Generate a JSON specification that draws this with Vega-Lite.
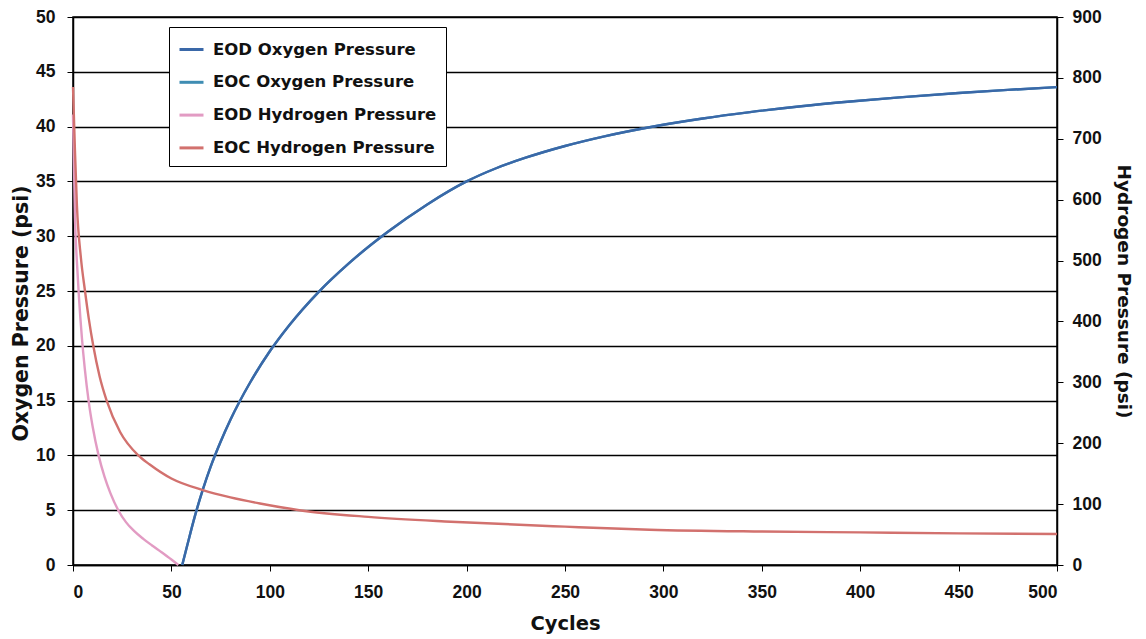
{
  "$schema": "https://vega.github.io/schema/vega-lite/v6.json",
  "width": 984,
  "height": 548,
  "autosize": "none",
  "padding": {"left": 73, "top": 17, "right": 89, "bottom": 74},
  "background": "white",
  "config": {
    "font": "Liberation Sans",
    "view": {"stroke": "black", "strokeWidth": 1.5},
    "axis": {
      "labelFont": "Liberation Sans", "labelFontWeight": "bold", "labelFontSize": 17.5, "labelColor": "#111",
      "titleFont": "DejaVu Sans", "titleFontWeight": "bold", "titleFontSize": 18.5, "titleColor": "#111",
      "domainColor": "black", "domainWidth": 1.5, "tickColor": "black", "tickSize": 6
    }
  },
  "datasets": {
    "oxygen": [
      {"cycle": 55.5, "series": "EOC Oxygen Pressure", "value": 0},
      {"cycle": 58, "series": "EOC Oxygen Pressure", "value": 1.75},
      {"cycle": 62, "series": "EOC Oxygen Pressure", "value": 4.5},
      {"cycle": 66, "series": "EOC Oxygen Pressure", "value": 6.9},
      {"cycle": 70, "series": "EOC Oxygen Pressure", "value": 9},
      {"cycle": 75, "series": "EOC Oxygen Pressure", "value": 11.25},
      {"cycle": 80, "series": "EOC Oxygen Pressure", "value": 13.25},
      {"cycle": 90, "series": "EOC Oxygen Pressure", "value": 16.65},
      {"cycle": 100, "series": "EOC Oxygen Pressure", "value": 19.5},
      {"cycle": 110, "series": "EOC Oxygen Pressure", "value": 21.9},
      {"cycle": 125, "series": "EOC Oxygen Pressure", "value": 24.95},
      {"cycle": 140, "series": "EOC Oxygen Pressure", "value": 27.5},
      {"cycle": 160, "series": "EOC Oxygen Pressure", "value": 30.4},
      {"cycle": 180, "series": "EOC Oxygen Pressure", "value": 32.9},
      {"cycle": 200, "series": "EOC Oxygen Pressure", "value": 35},
      {"cycle": 215, "series": "EOC Oxygen Pressure", "value": 36.2},
      {"cycle": 230, "series": "EOC Oxygen Pressure", "value": 37.16},
      {"cycle": 250, "series": "EOC Oxygen Pressure", "value": 38.23},
      {"cycle": 270, "series": "EOC Oxygen Pressure", "value": 39.11},
      {"cycle": 295, "series": "EOC Oxygen Pressure", "value": 40.01},
      {"cycle": 320, "series": "EOC Oxygen Pressure", "value": 40.74},
      {"cycle": 344, "series": "EOC Oxygen Pressure", "value": 41.32},
      {"cycle": 370, "series": "EOC Oxygen Pressure", "value": 41.86},
      {"cycle": 395, "series": "EOC Oxygen Pressure", "value": 42.29},
      {"cycle": 420, "series": "EOC Oxygen Pressure", "value": 42.67},
      {"cycle": 450, "series": "EOC Oxygen Pressure", "value": 43.06},
      {"cycle": 475, "series": "EOC Oxygen Pressure", "value": 43.35},
      {"cycle": 500, "series": "EOC Oxygen Pressure", "value": 43.6},
      {"cycle": 55.5, "series": "EOD Oxygen Pressure", "value": 0},
      {"cycle": 58, "series": "EOD Oxygen Pressure", "value": 1.75},
      {"cycle": 62, "series": "EOD Oxygen Pressure", "value": 4.5},
      {"cycle": 66, "series": "EOD Oxygen Pressure", "value": 6.9},
      {"cycle": 70, "series": "EOD Oxygen Pressure", "value": 9},
      {"cycle": 75, "series": "EOD Oxygen Pressure", "value": 11.25},
      {"cycle": 80, "series": "EOD Oxygen Pressure", "value": 13.25},
      {"cycle": 90, "series": "EOD Oxygen Pressure", "value": 16.65},
      {"cycle": 100, "series": "EOD Oxygen Pressure", "value": 19.5},
      {"cycle": 110, "series": "EOD Oxygen Pressure", "value": 21.9},
      {"cycle": 125, "series": "EOD Oxygen Pressure", "value": 24.95},
      {"cycle": 140, "series": "EOD Oxygen Pressure", "value": 27.5},
      {"cycle": 160, "series": "EOD Oxygen Pressure", "value": 30.4},
      {"cycle": 180, "series": "EOD Oxygen Pressure", "value": 32.9},
      {"cycle": 200, "series": "EOD Oxygen Pressure", "value": 35},
      {"cycle": 215, "series": "EOD Oxygen Pressure", "value": 36.2},
      {"cycle": 230, "series": "EOD Oxygen Pressure", "value": 37.16},
      {"cycle": 250, "series": "EOD Oxygen Pressure", "value": 38.23},
      {"cycle": 270, "series": "EOD Oxygen Pressure", "value": 39.11},
      {"cycle": 295, "series": "EOD Oxygen Pressure", "value": 40.01},
      {"cycle": 320, "series": "EOD Oxygen Pressure", "value": 40.74},
      {"cycle": 344, "series": "EOD Oxygen Pressure", "value": 41.32},
      {"cycle": 370, "series": "EOD Oxygen Pressure", "value": 41.86},
      {"cycle": 395, "series": "EOD Oxygen Pressure", "value": 42.29},
      {"cycle": 420, "series": "EOD Oxygen Pressure", "value": 42.67},
      {"cycle": 450, "series": "EOD Oxygen Pressure", "value": 43.06},
      {"cycle": 475, "series": "EOD Oxygen Pressure", "value": 43.35},
      {"cycle": 500, "series": "EOD Oxygen Pressure", "value": 43.6}
    ],
    "hydrogen": [
      {"cycle": 0, "series": "EOD Hydrogen Pressure", "value": 740},
      {"cycle": 1, "series": "EOD Hydrogen Pressure", "value": 570},
      {"cycle": 2, "series": "EOD Hydrogen Pressure", "value": 497},
      {"cycle": 3, "series": "EOD Hydrogen Pressure", "value": 441},
      {"cycle": 4.5, "series": "EOD Hydrogen Pressure", "value": 374},
      {"cycle": 6, "series": "EOD Hydrogen Pressure", "value": 322},
      {"cycle": 8, "series": "EOD Hydrogen Pressure", "value": 268},
      {"cycle": 10, "series": "EOD Hydrogen Pressure", "value": 227},
      {"cycle": 13, "series": "EOD Hydrogen Pressure", "value": 180},
      {"cycle": 16, "series": "EOD Hydrogen Pressure", "value": 145},
      {"cycle": 19, "series": "EOD Hydrogen Pressure", "value": 118},
      {"cycle": 23, "series": "EOD Hydrogen Pressure", "value": 90},
      {"cycle": 27, "series": "EOD Hydrogen Pressure", "value": 70},
      {"cycle": 31, "series": "EOD Hydrogen Pressure", "value": 56},
      {"cycle": 35.7, "series": "EOD Hydrogen Pressure", "value": 43},
      {"cycle": 40, "series": "EOD Hydrogen Pressure", "value": 32.5},
      {"cycle": 45, "series": "EOD Hydrogen Pressure", "value": 21},
      {"cycle": 50, "series": "EOD Hydrogen Pressure", "value": 9},
      {"cycle": 53.5, "series": "EOD Hydrogen Pressure", "value": 0},
      {"cycle": 0, "series": "EOC Hydrogen Pressure", "value": 785},
      {"cycle": 1, "series": "EOC Hydrogen Pressure", "value": 680},
      {"cycle": 2, "series": "EOC Hydrogen Pressure", "value": 590},
      {"cycle": 4, "series": "EOC Hydrogen Pressure", "value": 505},
      {"cycle": 6.1, "series": "EOC Hydrogen Pressure", "value": 450},
      {"cycle": 8, "series": "EOC Hydrogen Pressure", "value": 405},
      {"cycle": 10.3, "series": "EOC Hydrogen Pressure", "value": 360},
      {"cycle": 13.5, "series": "EOC Hydrogen Pressure", "value": 310},
      {"cycle": 17.1, "series": "EOC Hydrogen Pressure", "value": 270},
      {"cycle": 24, "series": "EOC Hydrogen Pressure", "value": 218},
      {"cycle": 33.2, "series": "EOC Hydrogen Pressure", "value": 180},
      {"cycle": 39, "series": "EOC Hydrogen Pressure", "value": 165},
      {"cycle": 50, "series": "EOC Hydrogen Pressure", "value": 142},
      {"cycle": 66, "series": "EOC Hydrogen Pressure", "value": 123},
      {"cycle": 80, "series": "EOC Hydrogen Pressure", "value": 111},
      {"cycle": 95, "series": "EOC Hydrogen Pressure", "value": 101},
      {"cycle": 115, "series": "EOC Hydrogen Pressure", "value": 90},
      {"cycle": 150, "series": "EOC Hydrogen Pressure", "value": 79},
      {"cycle": 192, "series": "EOC Hydrogen Pressure", "value": 71},
      {"cycle": 250, "series": "EOC Hydrogen Pressure", "value": 63},
      {"cycle": 293, "series": "EOC Hydrogen Pressure", "value": 58},
      {"cycle": 350, "series": "EOC Hydrogen Pressure", "value": 55},
      {"cycle": 400, "series": "EOC Hydrogen Pressure", "value": 53.5},
      {"cycle": 450, "series": "EOC Hydrogen Pressure", "value": 52},
      {"cycle": 500, "series": "EOC Hydrogen Pressure", "value": 51}
    ]
  },
  "layer": [
    {
      "data": {"name": "oxygen"},
      "mark": {"type": "line", "strokeWidth": 2.4, "interpolate": "monotone"},
      "encoding": {
        "x": {"field": "cycle", "type": "quantitative", "scale": {"domain": [0, 500], "nice": false},
          "axis": {"title": "Cycles", "titleFontSize": 19.5, "values": [0, 50, 100, 150, 200, 250, 300, 350, 400, 450, 500], "grid": false, "labelPadding": 12, "titlePadding": 14}},
        "y": {"field": "value", "type": "quantitative", "scale": {"domain": [0, 50], "nice": false},
          "axis": {"title": "Oxygen Pressure (psi)", "titleFontSize": 20.5, "titleY": 296, "values": [0, 5, 10, 15, 20, 25, 30, 35, 40, 45, 50], "grid": true, "gridColor": "black", "gridWidth": 1.3, "gridOpacity": 1, "labelPadding": 12, "titlePadding": 4}},
        "color": {"field": "series", "type": "nominal",
          "scale": {"domain": ["EOD Oxygen Pressure", "EOC Oxygen Pressure", "EOD Hydrogen Pressure", "EOC Hydrogen Pressure"],
                    "range": ["#3a68a8", "#3f8db3", "#e29bc3", "#d2716e"]},
          "legend": {"title": null, "orient": "none", "legendX": 96, "legendY": 10, "direction": "vertical",
            "strokeColor": "black", "fillColor": "white", "padding": 9, "symbolType": "stroke", "symbolStrokeWidth": 3,
            "symbolSize": 576, "labelFont": "DejaVu Sans", "labelFontWeight": "bold", "labelFontSize": 16.5, "labelColor": "#111",
            "labelLimit": 0, "rowPadding": 10.8, "labelOffset": 8}},
        "order": {"field": "series", "sort": "ascending"}
      }
    },
    {
      "data": {"name": "hydrogen"},
      "mark": {"type": "line", "strokeWidth": 2.4, "interpolate": "monotone"},
      "encoding": {
        "x": {"field": "cycle", "type": "quantitative"},
        "y": {"field": "value", "type": "quantitative", "scale": {"domain": [0, 900], "nice": false},
          "axis": {"title": "Hydrogen Pressure (psi)", "orient": "right", "values": [0, 100, 200, 300, 400, 500, 600, 700, 800, 900], "grid": false, "labelPadding": 9, "titlePadding": 12}},
        "color": {"field": "series", "type": "nominal"}
      }
    }
  ],
  "resolve": {"scale": {"y": "independent"}}
}
